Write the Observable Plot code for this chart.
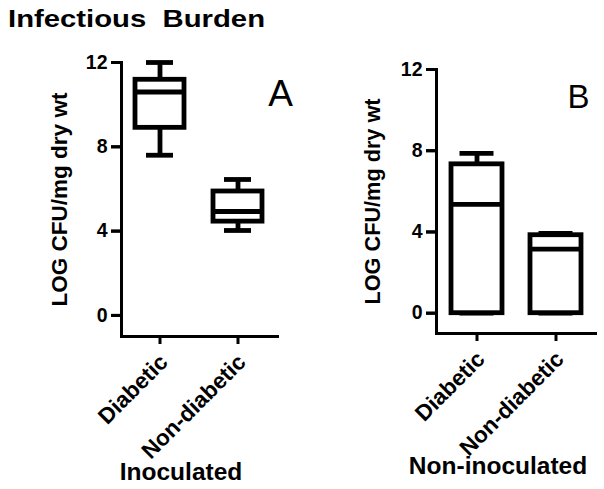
<!DOCTYPE html>
<html>
<head>
<meta charset="utf-8">
<script src="https://cdn.jsdelivr.net/npm/d3@7"></script>
<script src="https://cdn.jsdelivr.net/npm/@observablehq/plot@0.6"></script>
<style>
  html, body { margin: 0; padding: 0; background: white; }
  #wrap { position: relative; width: 604px; height: 489px; overflow: hidden; background: white; }
  #title { position: absolute; z-index: 5; left: 8px; top: 7px; font: bold 24px "Liberation Sans", Arial, sans-serif; line-height: 24px; white-space: pre; transform: scaleX(1.22); transform-origin: 0 0; color: black; }
  .panel { position: absolute; top: 0; z-index: 1; }
</style>
</head>
<body>
<div id="wrap">
  <div id="title">Infectious  Burden</div>
</div>
<script>
// ---- data ----
const groups = ["Diabetic", "Non-diabetic"];
const yTicks = [0, 4, 8, 12];
const yLabel = "LOG CFU/mg dry wt";

// Panel A: Inoculated (box: min, Q1, median, Q3, max)
const inocMin = [7.6, 4.03];
const inocQ1 = [8.9, 4.45];
const inocMedian = [10.6, 4.93];
const inocQ3 = [11.18, 5.88];
const inocMax = [12.0, 6.45];

// Panel B: Non-inoculated
const nonMin = [0, 0];
const nonQ1 = [0, 0];
const nonMedian = [5.36, 3.15];
const nonQ3 = [7.33, 3.84];
const nonMax = [7.87, 3.93];

const panelTitles = ["Inoculated", "Non-inoculated"];
const panelLetters = ["A", "B"];

function table(mins, q1s, meds, q3s, maxs) {
  return groups.map((g, i) => ({group: g, min: mins[i], q1: q1s[i], median: meds[i], q3: q3s[i], max: maxs[i]}));
}

const FONT = "'Liberation Sans', Arial, sans-serif";

function panel(o) {
  const data = o.data;
  const sw = 4.8;
  const tickLen = 10;
  const frameW = o.width - o.marginLeft - o.marginRight;
  return Plot.plot({
    width: o.width,
    height: 489,
    marginLeft: o.marginLeft,
    marginRight: o.marginRight,
    marginTop: o.marginTop,
    marginBottom: o.marginBottom,
    style: {fontFamily: FONT, background: "white", color: "black", overflow: "visible"},
    x: {domain: groups, paddingInner: o.pInner, paddingOuter: o.pOuter, axis: null},
    y: {domain: [-1, 12], axis: null},
    marks: [
      // y tick marks (outside the frame, to the left)
      Plot.ruleY(yTicks, {y: d => d, insetLeft: -tickLen, insetRight: frameW, stroke: "black", strokeWidth: 3}),
      Plot.axisY({ticks: yTicks, tickSize: tickLen, tickPadding: 4, strokeWidth: 3, fontSize: 19.5, fontWeight: "bold", label: null}),
      Plot.axisX({tickSize: 8, strokeWidth: 3, fill: "none", label: null}),
      Plot.frame({anchor: "left", strokeWidth: 3, strokeLinecap: "square"}),
      Plot.frame({anchor: "bottom", strokeWidth: 3, strokeLinecap: "square"}),
      Plot.text(groups, {x: d => d, text: d => d, frameAnchor: "bottom", rotate: -45, textAnchor: "end", lineAnchor: "middle", dx: 4, dy: 22, fontSize: o.xFont, fontWeight: "bold"}),
      // whiskers
      Plot.ruleX(data, {x: "group", y1: "q3", y2: "max", strokeWidth: sw}),
      Plot.ruleX(data, {x: "group", y1: "min", y2: "q1", strokeWidth: sw}),
      Plot.tickY(data, {x: "group", y: "max", strokeWidth: sw, inset: o.capInset}),
      Plot.tickY(data, {x: "group", y: "min", strokeWidth: sw, inset: o.capInset}),
      // boxes
      Plot.barY(data, {x: "group", y1: "q1", y2: "q3", fill: "white", stroke: "black", strokeWidth: sw}),
      Plot.tickY(data, {x: "group", y: "median", strokeWidth: sw}),
      // y label
      Plot.text([yLabel], {text: d => d, frameAnchor: "left", rotate: -90, textAnchor: "middle", lineAnchor: "middle", dx: o.yLabelDx, fontSize: o.yLabelFont, fontWeight: "bold"}),
      // panel letter
      Plot.text([o.letter], {text: d => d, frameAnchor: "top-right", textAnchor: "middle", lineAnchor: "bottom", dx: o.letterDx, dy: o.letterDy, fontSize: o.letterFont}),
      // panel x title
      Plot.text([o.xTitle], {text: d => d, frameAnchor: "bottom", textAnchor: "middle", lineAnchor: "bottom", dx: o.xTitleDx, dy: o.xTitleDy, fontSize: o.xTitleFont, fontWeight: "bold"})
    ]
  });
}

const wrap = document.getElementById("wrap");

const a = panel({
  data: table(inocMin, inocQ1, inocMedian, inocQ3, inocMax),
  width: 300, marginLeft: 121, marginRight: 23, marginTop: 62, marginBottom: 153,
  pInner: 0.37, pOuter: 0.185, capInset: 11, xFont: 22.5,
  yLabelDx: -62, yLabelFont: 22.5,
  letter: panelLetters[0], letterFont: 37, letterDx: 3, letterDy: 43,
  xTitle: panelTitles[0], xTitleDx: -18.5, xTitleDy: 143, xTitleFont: 24.5
});
a.classList.add("panel");
a.style.left = "0px";
wrap.appendChild(a);

const b = panel({
  data: table(nonMin, nonQ1, nonMedian, nonQ3, nonMax),
  width: 304, marginLeft: 136, marginRight: 9, marginTop: 69, marginBottom: 156,
  pInner: 0.355, pOuter: 0.178, capInset: 8.5, xFont: 22.5,
  yLabelDx: -63, yLabelFont: 21.7,
  letter: panelLetters[1], letterFont: 33, letterDx: -17, letterDy: 38,
  xTitle: panelTitles[1], xTitleDx: -18, xTitleDy: 140, xTitleFont: 24.5
});
b.classList.add("panel");
b.style.left = "300px";
wrap.appendChild(b);
</script>
</body>
</html>
